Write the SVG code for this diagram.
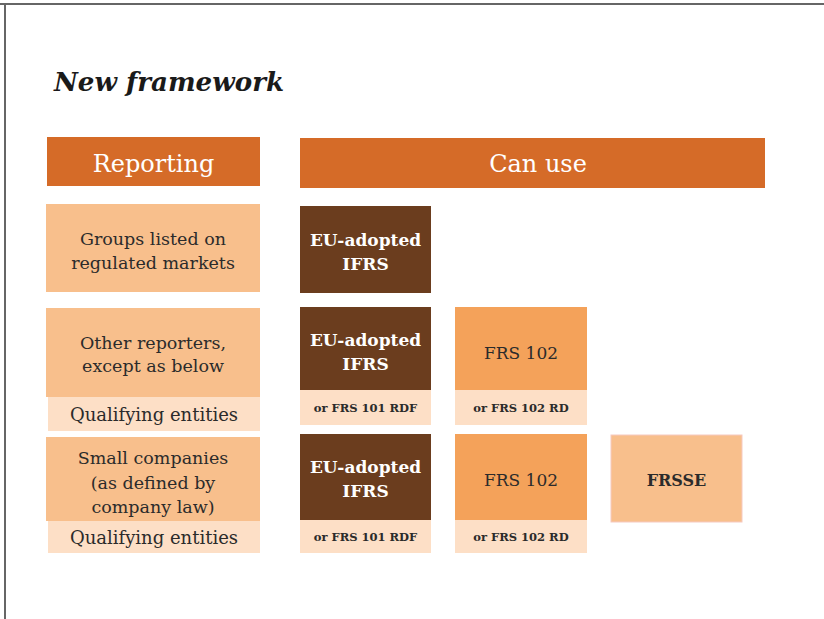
<svg xmlns="http://www.w3.org/2000/svg" width="824" height="619" viewBox="0 0 824 619">
<style>
.hdr{fill:#D56B28}
.rep{fill:#F8BF8C}
.sub{fill:#FDDFC6}
.ifrs{fill:#6B3D1E}
.frs{fill:#F4A25A}
text{font-family:"DejaVu Serif","Liberation Serif",serif;text-anchor:middle}
.ht{fill:#fff;font-size:24px}
.rt{fill:#2b2b2b;font-size:17.5px}
.wt{fill:#fff;font-size:17px;font-weight:bold}
.ft{fill:#2b2b2b;font-size:17px}
.st{fill:#2b2b2b;font-size:11.5px;font-weight:bold}
.qt{fill:#2b2b2b;font-size:18px}
</style>
<rect x="0" y="0" width="824" height="619" fill="#fff"/>
<line x1="0" y1="4" x2="824" y2="4" stroke="#666" stroke-width="2"/>
<line x1="5" y1="4" x2="5" y2="619" stroke="#666" stroke-width="2"/>
<text x="54" y="91" style="text-anchor:start;font-size:26px;font-weight:bold;font-style:italic;fill:#1a1a1a" textLength="230" lengthAdjust="spacingAndGlyphs">New framework</text>
<g id="reporting-header"><rect class="hdr" x="47" y="137" width="213" height="49"/><text class="ht" x="153.5" y="172">Reporting</text></g>
<g id="canuse-header"><rect class="hdr" x="300" y="138" width="465" height="50"/><text class="ht" x="538" y="172">Can use</text></g>
<g id="groups-listed"><rect class="rep" x="46" y="204" width="214" height="88"/><text class="rt" x="153" y="245">Groups listed on</text><text class="rt" x="153" y="269">regulated markets</text></g>
<g id="ifrs-1"><rect class="ifrs" x="300" y="206" width="131" height="87"/><text class="wt" x="365.5" y="246">EU-adopted</text><text class="wt" x="365.5" y="270">IFRS</text></g>
<g id="other-reporters"><rect class="rep" x="46" y="308" width="214" height="89"/><text class="rt" x="153" y="349">Other reporters,</text><text class="rt" x="153" y="372">except as below</text></g>
<g id="qualifying-1"><rect class="sub" x="48" y="397" width="212" height="34"/><text class="qt" x="154" y="421">Qualifying entities</text></g>
<g id="ifrs-2"><rect class="ifrs" x="300" y="307" width="131" height="83"/><text class="wt" x="365.5" y="346">EU-adopted</text><text class="wt" x="365.5" y="370">IFRS</text><rect class="sub" x="300" y="390" width="131" height="35"/><text class="st" x="365.5" y="412">or FRS 101 RDF</text></g>
<g id="frs102-2"><rect class="frs" x="455" y="307" width="132" height="83"/><text class="ft" x="521" y="359">FRS 102</text><rect class="sub" x="455" y="390" width="132" height="35"/><text class="st" x="521" y="412">or FRS 102 RD</text></g>
<g id="small-companies"><rect class="rep" x="46" y="437" width="214" height="84"/><text class="rt" x="153" y="464">Small companies</text><text class="rt" x="153" y="489">(as defined by</text><text class="rt" x="153" y="513">company law)</text></g>
<g id="qualifying-2"><rect class="sub" x="48" y="521" width="212" height="32"/><text class="qt" x="154" y="544">Qualifying entities</text></g>
<g id="ifrs-3"><rect class="ifrs" x="300" y="434" width="131" height="86"/><text class="wt" x="365.5" y="473">EU-adopted</text><text class="wt" x="365.5" y="497">IFRS</text><rect class="sub" x="300" y="520" width="131" height="33"/><text class="st" x="365.5" y="541">or FRS 101 RDF</text></g>
<g id="frs102-3"><rect class="frs" x="455" y="434" width="132" height="86"/><text class="ft" x="521" y="486">FRS 102</text><rect class="sub" x="455" y="520" width="132" height="33"/><text class="st" x="521" y="541">or FRS 102 RD</text></g>
<g id="frsse"><rect class="rep" x="611" y="435" width="131" height="87" stroke="#F6C9C0" stroke-width="1"/><text class="st" style="font-size:16px" x="676.5" y="486">FRSSE</text></g>
<g id="connectors"></g>
</svg>
